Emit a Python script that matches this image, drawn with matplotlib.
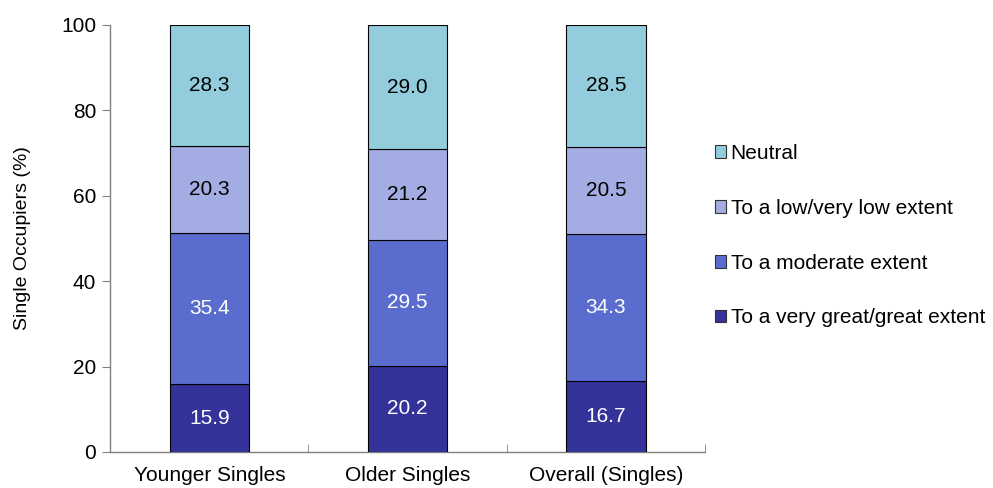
import matplotlib
matplotlib.use("Agg")
import matplotlib.pyplot as plt
from matplotlib.patches import Patch
import numpy as np

plt.rcParams['font.family'] = ['Liberation Sans', 'DejaVu Sans']

categories = ["Younger Singles", "Older Singles", "Overall (Singles)"]
series_names = ["To a very great/great extent", "To a moderate extent",
                "To a low/very low extent", "Neutral"]
great = [15.9, 20.2, 16.7]
moderate = [35.4, 29.5, 34.3]
low = [20.3, 21.2, 20.5]
neutral = [28.3, 29.0, 28.5]
yticks = [0, 20, 40, 60, 80, 100]

series = [great, moderate, low, neutral]
colors = ["#333399", "#5A6DCF", "#A3ADE3", "#93CDDD"]
text_colors = ["white", "white", "black", "black"]

fig = plt.figure(figsize=(9.93, 4.88), dpi=100)
ax = fig.add_axes([0.111, 0.0738, 0.599, 0.875])

x = np.arange(len(categories))
bottom = np.zeros(len(categories))
for vals, col, tc in zip(series, colors, text_colors):
    vals = np.array(vals)
    ax.bar(x, vals, width=0.4, bottom=bottom, color=col,
           edgecolor="black", linewidth=0.8, zorder=3)
    for xi, b, v in zip(x, bottom, vals):
        ax.text(xi, b + v / 2, f"{v:.1f}", ha="center", va="center",
                fontsize=15, color=tc, zorder=4)
    bottom += vals

ax.set_xlim(-0.5, len(categories) - 0.5)
ax.set_ylim(0, 100)
ax.set_yticks(yticks)
ax.set_yticklabels([str(t) for t in yticks], fontsize=15)
ax.set_xticks(x)
ax.set_xticklabels(categories, fontsize=15)
ax.tick_params(axis="x", which="major", length=0, pad=10)
ax.set_xticks(np.arange(len(categories) + 1) - 0.5, minor=True)
ax.tick_params(axis="x", which="minor", length=6, color="#808080", direction="in")
ax.tick_params(axis="y", length=6, color="#808080", direction="out", pad=4)
ax.set_ylabel("Single Occupiers (%)", fontsize=14, labelpad=22)

for s in ["top", "right"]:
    ax.spines[s].set_visible(False)
for s in ["left", "bottom"]:
    ax.spines[s].set_color("#808080")
    ax.spines[s].set_linewidth(1.0)

handles = [Patch(facecolor=c, edgecolor="#333333", linewidth=0.8)
           for c in colors][::-1]
fig.legend(handles, series_names[::-1], loc="center left",
           bbox_to_anchor=(0.720, 0.517), frameon=False, fontsize=15,
           handlelength=0.55, handleheight=0.55, handletextpad=0.2,
           labelspacing=1.72, borderaxespad=0, borderpad=0)

fig.savefig("out.png", dpi=100)
